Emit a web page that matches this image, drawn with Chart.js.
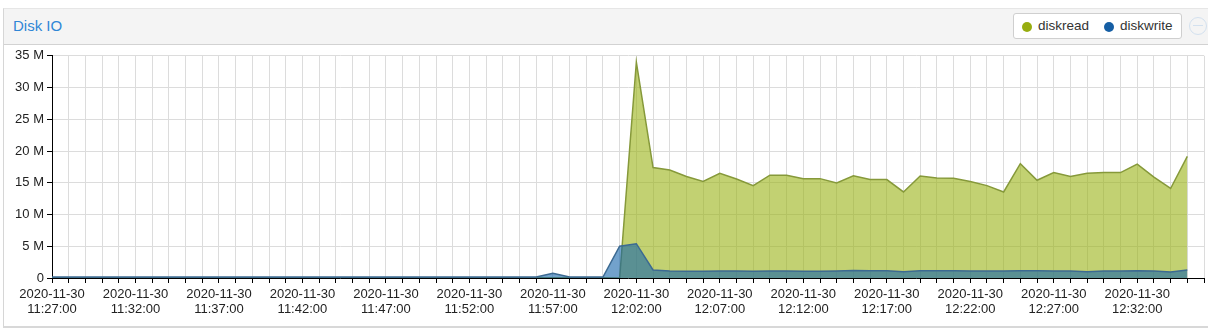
<!DOCTYPE html>
<html>
<head>
<meta charset="utf-8">
<script src="https://cdn.jsdelivr.net/npm/chart.js@4/dist/chart.umd.min.js"></script>
<style>
	body { margin: 0; background: #fff; font-family: "Liberation Sans", Arial, sans-serif; }
	#page { position: relative; width: 1208px; height: 331px; overflow: hidden; }
	#panel { position: absolute; left: 3px; top: 8px; width: 1215px; height: 317px; border-left: 1px solid #d6d6d6; border-top: 1px solid #e6e6e6; border-bottom: 2px solid #d8d8d8; }
	#head { position: absolute; left: 0; top: 0; width: 100%; height: 35px; background: #f4f4f4; border-bottom: 1px solid #d2d2d2; }
	#title { position: absolute; left: 9px; top: 8px; font-size: 15px; color: #2f86d6; }
	#legend { position: absolute; left: 1009px; top: 4px; width: 167px; height: 24px; background: #fff; border: 1px solid #cfcfcf; border-radius: 3px; font-size: 13.5px; color: #333; }
	.dot { position: absolute; top: 8px; width: 10px; height: 10px; border-radius: 50%; }
	.lbl { position: absolute; top: 4px; }
	#zoom { position: absolute; left: 1185px; top: 8px; width: 16px; height: 16px; border: 1px solid #d3e1ef; border-radius: 50%; }
	#zoom div { position: absolute; left: 3px; top: 7px; width: 10px; height: 1px; background: #d3e1ef; }
	#wrap { position: absolute; left: 0; top: 45px; width: 1208px; height: 282px; }
</style>
</head>
<body>
<div id="page">
	<div id="panel">
		<div id="head">
			<div id="title">Disk IO</div>
			<div id="legend">
				<div class="dot" style="left:8px;background:#97ad0f"></div><div class="lbl" style="left:24px">diskread</div>
				<div class="dot" style="left:90px;background:#155ea4"></div><div class="lbl" style="left:106px">diskwrite</div>
			</div>
			<div id="zoom"><div></div></div>
		</div>
	</div>
	<div id="wrap"><canvas id="diskChart"></canvas></div>
</div>
<script>
// one point per minute, 11:27 .. 12:36 (values in M)
var day = '2020-11-30';
var times = [
	'11:27:00','11:28:00','11:29:00','11:30:00','11:31:00','11:32:00','11:33:00','11:34:00','11:35:00','11:36:00',
	'11:37:00','11:38:00','11:39:00','11:40:00','11:41:00','11:42:00','11:43:00','11:44:00','11:45:00','11:46:00',
	'11:47:00','11:48:00','11:49:00','11:50:00','11:51:00','11:52:00','11:53:00','11:54:00','11:55:00','11:56:00',
	'11:57:00','11:58:00','11:59:00','12:00:00','12:01:00','12:02:00','12:03:00','12:04:00','12:05:00','12:06:00',
	'12:07:00','12:08:00','12:09:00','12:10:00','12:11:00','12:12:00','12:13:00','12:14:00','12:15:00','12:16:00',
	'12:17:00','12:18:00','12:19:00','12:20:00','12:21:00','12:22:00','12:23:00','12:24:00','12:25:00','12:26:00',
	'12:27:00','12:28:00','12:29:00','12:30:00','12:31:00','12:32:00','12:33:00','12:34:00','12:35:00','12:36:00'
];
var diskread = [
	0.02,0.02,0.02,0.02,0.02,0.02,0.02,0.02,0.02,0.02,
	0.02,0.02,0.02,0.02,0.02,0.02,0.02,0.02,0.02,0.02,
	0.02,0.02,0.02,0.02,0.02,0.02,0.02,0.02,0.02,0.02,
	0.02,0.02,0.02,0.02,0,34.0,17.4,17.0,16.0,15.2,
	16.5,15.6,14.55,16.2,16.2,15.65,15.65,14.96,16.1,15.5,
	15.5,13.55,16.06,15.75,15.7,15.2,14.55,13.55,18.0,15.4,
	16.6,16.0,16.5,16.6,16.6,17.95,15.9,14.1,19.15
];
var diskwrite = [
	0.15,0.15,0.15,0.15,0.15,0.15,0.15,0.15,0.15,0.15,
	0.15,0.15,0.15,0.15,0.15,0.15,0.15,0.15,0.15,0.15,
	0.15,0.15,0.15,0.15,0.15,0.15,0.15,0.15,0.15,0.15,
	0.75,0.15,0.15,0.15,5.0,5.4,1.26,1.1,1.08,1.05,
	1.1,1.1,1.05,1.1,1.1,1.05,1.05,1.1,1.2,1.15,
	1.15,1.0,1.15,1.15,1.15,1.1,1.1,1.1,1.15,1.15,
	1.1,1.1,1.0,1.1,1.1,1.15,1.1,0.95,1.25
];
var yTicks = [0, 5, 10, 15, 20, 25, 30, 35];

var fontFam = '"Liberation Sans", Arial, sans-serif';

var ctx = document.getElementById('diskChart');
var diskChart = new Chart(ctx, {
	type: 'line',
	data: {
		labels: times,
		datasets: [
			{
				label: 'diskwrite',
				data: diskwrite,
				order: 0,
				fill: 'origin',
				backgroundColor: 'rgba(20, 100, 170, 0.6)',
				borderColor: '#3c6a92',
				borderWidth: 1.5,
				pointRadius: 0,
				tension: 0
			},
			{
				label: 'diskread',
				data: diskread,
				order: 1,
				fill: 'origin',
				backgroundColor: 'rgba(153, 178, 20, 0.6)',
				borderColor: '#86993a',
				borderWidth: 1.5,
				pointRadius: 0,
				tension: 0
			}
		]
	},
	options: {
		responsive: true,
		maintainAspectRatio: false,
		animation: false,
		layout: { padding: { top: 10, right: 3, left: 0, bottom: 0 } },
		plugins: { legend: { display: false }, tooltip: { enabled: false } },
		scales: {
			x: {
				type: 'category',
				offset: false,
				grid: { color: '#dcdcdc', tickColor: '#000', tickLength: 5 },
				border: { color: '#000', width: 1 },
				ticks: {
					autoSkip: false,
					maxRotation: 0,
					minRotation: 0,
					padding: 4,
					color: '#222',
					font: { size: 13, family: fontFam, lineHeight: 1.15 },
					callback: function(v, i) {
						return i % 5 === 0 ? [day, times[i]] : '';
					}
				},
				afterFit: function(scale) { scale.height = 49; }
			},
			y: {
				min: 0,
				max: 35,
				afterBuildTicks: function(scale) {
					scale.ticks = yTicks.map(function(v) { return { value: v }; });
				},
				grid: { color: '#dcdcdc', tickColor: '#000', tickLength: 5 },
				border: { color: '#000', width: 1 },
				ticks: {
					padding: 3,
					color: '#222',
					font: { size: 13, family: fontFam },
					callback: function(v) { return v === 0 ? '0' : v + ' M'; }
				},
				afterFit: function(scale) { scale.width = 52; }
			}
		}
	}
});
</script>
</body>
</html>
